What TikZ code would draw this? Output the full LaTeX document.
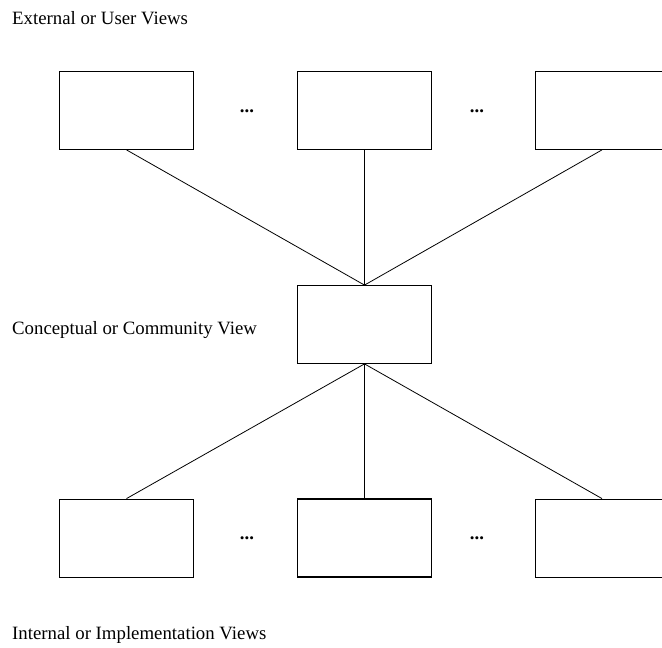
\documentclass[tikz,border=0pt]{standalone}
\usepackage{fontspec}
\setmainfont{Liberation Serif}

\tikzset{
    viewbox/.style={draw, line width=0.8pt, inner sep=0pt, minimum width=134pt, minimum height=78pt},
    conn/.style={line width=0.8pt},
    label/.style={anchor=base west, inner sep=0pt, font=\fontsize{18.8}{22}\selectfont},
    dots/.style={inner sep=0pt, font=\fontsize{18.8}{22}\selectfont\bfseries}
}

\begin{document}
\begin{tikzpicture}[x=1pt, y=1pt]

    % Fix the page to the size of the reference
    \useasboundingbox (0,0) rectangle (662,648);
    \clip (0,0) rectangle (662,648);

    % External views (top row)
    \node[viewbox] (ext1) at (126.5,537.5) {};
    \node[viewbox] (ext2) at (364.5,537.5) {};
    \node[viewbox] (ext3) at (602,537.5) {};

    % Conceptual view (middle)
    \node[viewbox] (concept) at (364.5,323.5) {};

    % Internal views (bottom row), the middle one drawn heavier
    \node[viewbox] (int1) at (126.5,110) {};
    \node[viewbox, line width=1.6pt] (int2) at (364.5,110) {};
    \node[viewbox] (int3) at (602,110) {};

    % Dots between the boxes
    \node[dots] (dotA) at (247,537) {...};
    \node[dots] (dotB) at (477,537) {...};
    \node[dots] (dotC) at (247,110) {...};
    \node[dots] (dotD) at (477,110) {...};

    % Connect the external views to the conceptual view
    \draw[conn] (ext1.south) -- (concept.north);
    \draw[conn] (ext2.south) -- (concept.north);
    \draw[conn] (ext3.south) -- (concept.north);

    % Connect the conceptual view to the internal views
    \draw[conn] (concept.south) -- (int1.north);
    \draw[conn] (concept.south) -- (int2.north);
    \draw[conn] (concept.south) -- (int3.north);

    % Level labels
    \node[label] (extlabel) at (12,623) {External or User Views};
    \node[label] (conlabel) at (12,313) {Conceptual or Community View};
    \node[label] (intlabel) at (12,8) {Internal or Implementation Views};

\end{tikzpicture}
\end{document}
